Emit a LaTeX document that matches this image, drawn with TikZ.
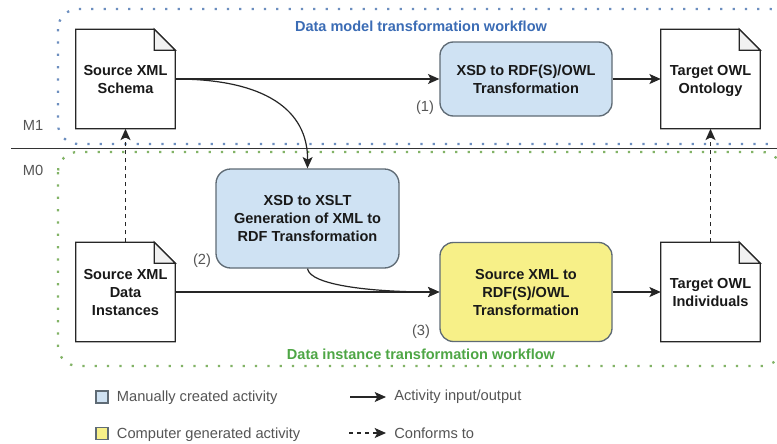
\documentclass[tikz,border=0pt]{standalone}
\usepackage{fontspec}
\setmainfont{Liberation Sans}
\usetikzlibrary{shapes,arrows,arrows.meta,positioning,calc}
\definecolor{manualfill}{HTML}{CFE2F3}
\definecolor{generatedfill}{HTML}{F7F088}
\definecolor{boxline}{HTML}{5F6B75}
\definecolor{foldfill}{HTML}{F1F1F1}
\definecolor{modelblue}{HTML}{6C8EBF}
\definecolor{instancegreen}{HTML}{82B366}
\definecolor{modeltitle}{HTML}{3B6CB5}
\definecolor{instancetitle}{HTML}{4EA645}
\definecolor{notegray}{HTML}{555555}
\tikzset{
  boxtext/.style={font=\fontsize{10.9}{13.5}\selectfont\bfseries, align=center, text=black!90},
  docnode/.style={boxtext, minimum width=74.25pt, minimum height=74.25pt, inner sep=0pt,
    append after command={\pgfextra{
      \draw[black!85, line width=1pt]
      (\tikzlastnode.north west) -- ($(\tikzlastnode.north east)+(-21,0)$)
        -- ($(\tikzlastnode.north east)+(0,21)$) -- (\tikzlastnode.south east)
        -- (\tikzlastnode.south west) -- cycle;
      \draw[black!85, line width=1pt, fill=foldfill]
      ($(\tikzlastnode.north east)+(-21,0)$) -- ($(\tikzlastnode.north east)+(-21,21)$)
        -- ($(\tikzlastnode.north east)+(0,21)$) -- cycle;
    }}},
  activity/.style={boxtext, draw=boxline, line width=1pt, rounded corners=10pt, inner sep=0pt},
  manual/.style={activity, fill=manualfill},
  generated/.style={activity, fill=generatedfill},
  frame/.style={line width=1.7pt, dash pattern=on 1.7pt off 7.55pt, rounded corners=15pt},
  flow/.style={->, line width=.9pt, black!85},
  conforms/.style={->, line width=1pt, black!85, dash pattern=on 3pt off 3pt},
  note/.style={font=\fontsize{11}{13}\selectfont, text=notegray, inner sep=0pt},
  keybox/.style={draw=boxline, line width=1pt, minimum size=9pt, inner sep=0pt}
}
\begin{document}
\begin{tikzpicture}[x=.75pt, y=-.75pt, >={Stealth[length=8.5pt,width=7.5pt,inset=2pt]}]
  \clip (0,0) rectangle (777,443);
  \fill[white] (0,0) rectangle (777,443);
  % workflow frames
  \draw[frame, modelblue] (58,9) rectangle (790,144);
  \draw[frame, instancegreen] (58,152) rectangle (782,366);
  \coordinate (lineleft) at (11,148.5);
  \coordinate (lineright) at (777,148.5);
  \draw[line width=.9pt, black!80] (lineleft) -- (lineright);
  \node [note] (m1) at (33,125) {M1};
  \node [note] (m0) at (33,170) {M0};
  \node [font=\fontsize{10.9}{13}\selectfont\bfseries, text=modeltitle] (modeltitle) at (421,26) {Data model transformation workflow};
  \node [font=\fontsize{10.9}{13}\selectfont\bfseries, text=instancetitle] (instancetitle) at (421,354) {Data instance transformation workflow};
  % documents
  \node [docnode] (schema) at (125.5,79) {Source XML\\Schema};
  \node [docnode] (instances) at (125.5,292) {Source XML\\Data\\Instances};
  \node [docnode, text depth=0pt] (ontology) at (710.5,79) {Target OWL\\Ontology};
  \node [docnode] (individuals) at (710.5,292) {Target OWL\\Individuals};
  % activities
  \node [manual, minimum width=129pt, minimum height=55.5pt] (xsdowl) at (526,79) {XSD to RDF(S)/OWL\\Transformation};
  \node [manual, minimum width=137.25pt, minimum height=74.25pt, rounded corners=11pt] (xsdxslt) at (307.5,218.5) {XSD to XSLT\\Generation of XML to\\RDF Transformation};
  \node [generated, minimum width=129pt, minimum height=74.25pt] (xmlowl) at (526,292) {Source XML to\\RDF(S)/OWL\\Transformation};
  \node [note] (n1) at (425,108) {(1)};
  \node [note] (n2) at (202,261) {(2)};
  \node [note] (n3) at (421,332) {(3)};
  % connectors
  \draw [flow] (schema.east) -- (xsdowl.west);
  \draw [flow] (xsdowl.east) -- (ontology.west);
  \draw [flow] (schema.east) .. controls (265,79) and (308,110) .. (xsdxslt.north);
  \draw [flow] (instances.east) -- (xmlowl.west);
  \draw [flow] (xsdxslt.south) .. controls (310,285) and (370,292) .. (xmlowl.west);
  \draw [flow] (xmlowl.east) -- (individuals.west);
  \draw [conforms] (instances.north) -- (schema.south);
  \draw [conforms] (individuals.north) -- (ontology.south);
  % legend
  \node [keybox, fill=manualfill] (keymanual) at (102,397) {};
  \node [keybox, fill=generatedfill] (keygenerated) at (102,433.5) {};
  \node [note, right=6pt of keymanual, yshift=-.7pt] (manualtext) {Manually created activity};
  \node [note, right=6pt of keygenerated, yshift=-.7pt] (generatedtext) {Computer generated activity};
  \coordinate (flowstart) at (350,397);
  \node [note, anchor=west] (flowtext) at (394,397) {Activity input/output};
  \draw [flow] (flowstart) -- (386,397);
  \coordinate (dashstart) at (349,433);
  \node [note, anchor=west] (dashtext) at (394,433.5) {Conforms to};
  \draw [conforms] (dashstart) -- (386,433);
\end{tikzpicture}
\end{document}
